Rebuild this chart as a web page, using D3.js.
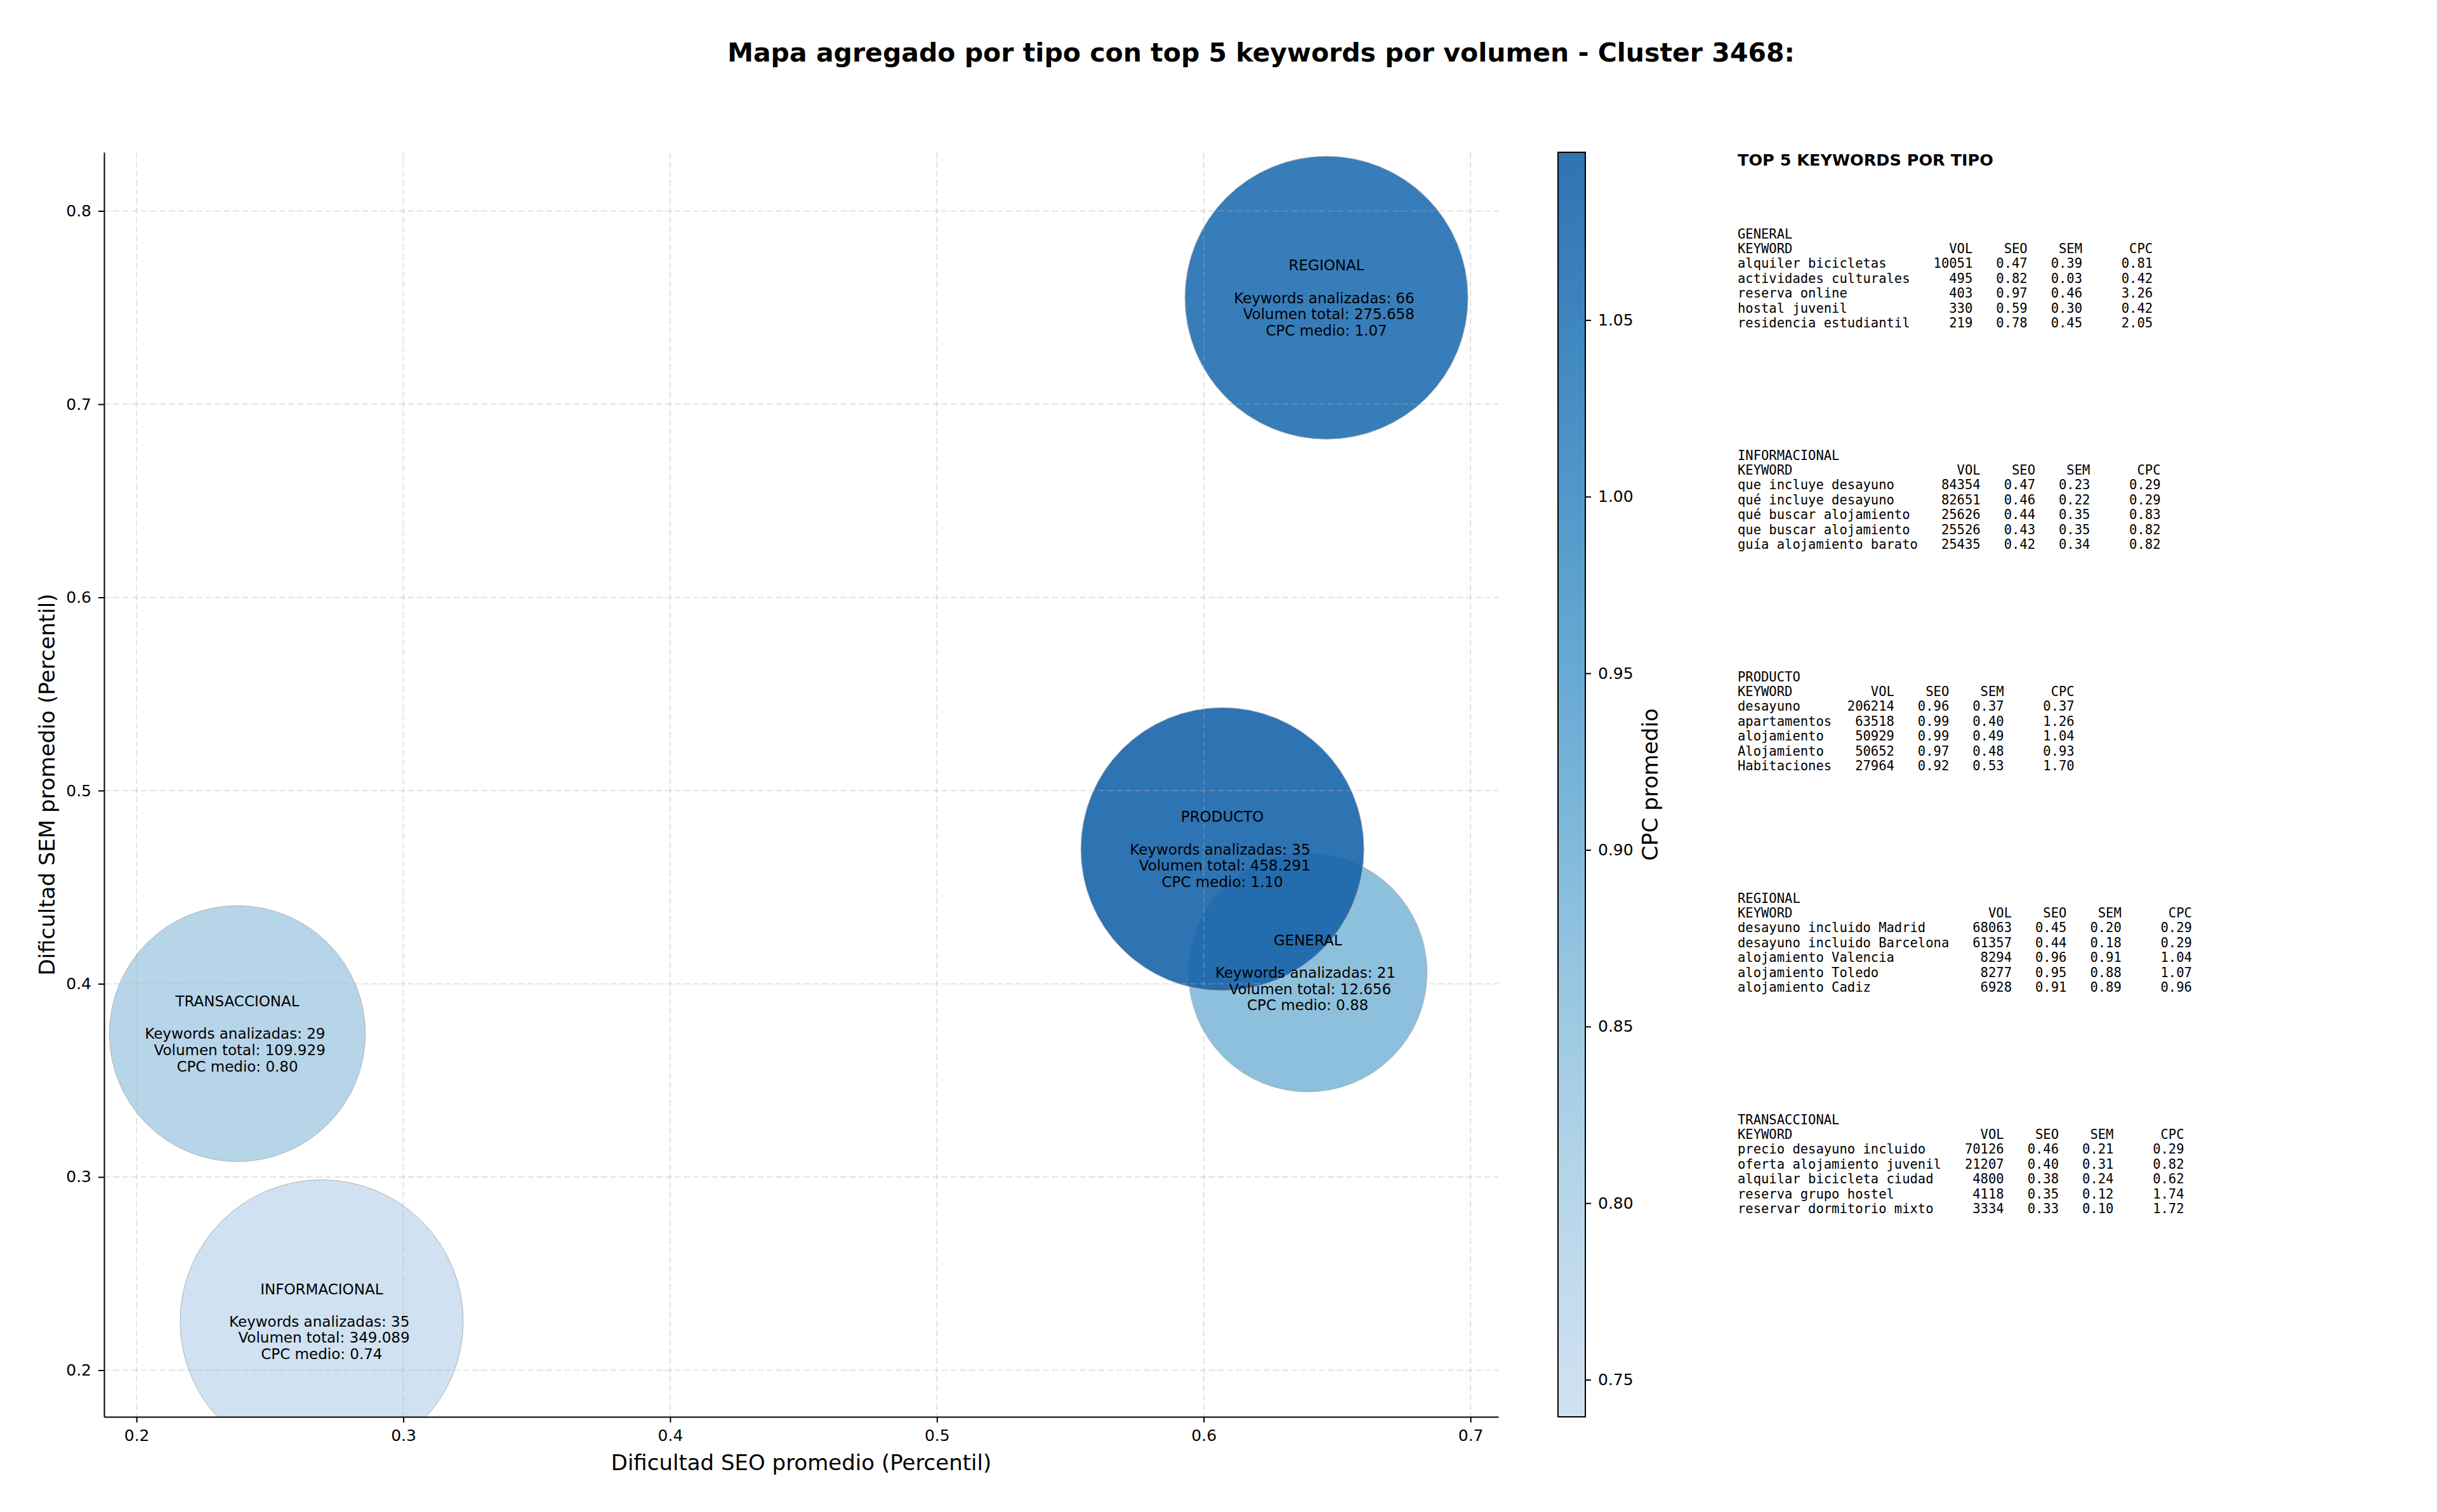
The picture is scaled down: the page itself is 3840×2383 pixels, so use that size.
<!DOCTYPE html>
<meta charset="utf-8">
<script src="https://d3js.org/d3.v7.min.js"></script>
<style>
  body { margin: 0; background: #fff; }
  text { font-family: "DejaVu Sans", sans-serif; fill: #000; }
  .mono { font-family: "DejaVu Sans Mono", monospace; white-space: pre; }
  .axis text { font-size: 25px; font-family: "DejaVu Sans", sans-serif; }
  .axis path, .axis line { stroke: #000; stroke-width: 2; }
</style>
<svg></svg>
<script>

// DATA

var tipos = ["GENERAL", "INFORMACIONAL", "PRODUCTO", "REGIONAL", "TRANSACCIONAL"];
var seoProm = [0.639, 0.2694, 0.607, 0.646, 0.2378];
var semProm = [0.4058, 0.2253, 0.4697, 0.7551, 0.3742];
var numKeywords = [21, 35, 35, 66, 29];
var volTotal = [12656, 349089, 458291, 275658, 109929];
var cpcMedio = [0.88, 0.7395, 1.0975, 1.07, 0.80];

var xTicks = [0.2, 0.3, 0.4, 0.5, 0.6, 0.7];
var yTicks = [0.2, 0.3, 0.4, 0.5, 0.6, 0.7, 0.8];
var cbTicks = [0.75, 0.80, 0.85, 0.90, 0.95, 1.00, 1.05];

// top 5 keywords: keyword, vol, seo, sem, cpc
var topGeneral = [
  ["alquiler bicicletas", 10051, 0.47, 0.39, 0.81],
  ["actividades culturales", 495, 0.82, 0.03, 0.42],
  ["reserva online", 403, 0.97, 0.46, 3.26],
  ["hostal juvenil", 330, 0.59, 0.30, 0.42],
  ["residencia estudiantil", 219, 0.78, 0.45, 2.05]
];
var topInformacional = [
  ["que incluye desayuno", 84354, 0.47, 0.23, 0.29],
  ["qué incluye desayuno", 82651, 0.46, 0.22, 0.29],
  ["qué buscar alojamiento", 25626, 0.44, 0.35, 0.83],
  ["que buscar alojamiento", 25526, 0.43, 0.35, 0.82],
  ["guía alojamiento barato", 25435, 0.42, 0.34, 0.82]
];
var topProducto = [
  ["desayuno", 206214, 0.96, 0.37, 0.37],
  ["apartamentos", 63518, 0.99, 0.40, 1.26],
  ["alojamiento", 50929, 0.99, 0.49, 1.04],
  ["Alojamiento", 50652, 0.97, 0.48, 0.93],
  ["Habitaciones", 27964, 0.92, 0.53, 1.70]
];
var topRegional = [
  ["desayuno incluido Madrid", 68063, 0.45, 0.20, 0.29],
  ["desayuno incluido Barcelona", 61357, 0.44, 0.18, 0.29],
  ["alojamiento Valencia", 8294, 0.96, 0.91, 1.04],
  ["alojamiento Toledo", 8277, 0.95, 0.88, 1.07],
  ["alojamiento Cadiz", 6928, 0.91, 0.89, 0.96]
];
var topTransaccional = [
  ["precio desayuno incluido", 70126, 0.46, 0.21, 0.29],
  ["oferta alojamiento juvenil", 21207, 0.40, 0.31, 0.82],
  ["alquilar bicicleta ciudad", 4800, 0.38, 0.24, 0.62],
  ["reserva grupo hostel", 4118, 0.35, 0.12, 1.74],
  ["reservar dormitorio mixto", 3334, 0.33, 0.10, 1.72]
];
var topPorTipo = [topGeneral, topInformacional, topProducto, topRegional, topTransaccional];

// GLOBALS

var width = 3840;
var height = 2383;
var plot = { left: 164, right: 2361, top: 240, bottom: 2233 };
var cbar = { left: 2455, right: 2498 };

var svg = d3.select("svg")
    .attr("width", width)
    .attr("height", height);

svg.append("rect").attr("width", width).attr("height", height).attr("fill", "#fff");

// SCALES

var xScale = d3.scaleLinear().domain([0.18784, 0.71044]).range([plot.left, plot.right]);
var yScale = d3.scaleLinear().domain([0.17586, 0.83038]).range([plot.bottom, plot.top]);
// bubble area grows with volume, capped at a maximum size
var areaScale = d3.scaleLinear().domain([0, 276000]).range([34650, 49730]).clamp(true);

var cpcExtent = d3.extent(cpcMedio);
var color = d3.scaleSequential(function(t) { return d3.interpolateBlues(0.22 + 0.58 * t); })
    .domain(cpcExtent);
var cbScale = d3.scaleLinear().domain(cpcExtent).range([plot.bottom, plot.top]);

var fmtVol = d3.formatLocale({ decimal: ",", thousands: ".", grouping: [3], currency: ["", ""] }).format(",d");

var data = tipos.map(function(t, i) {
  return { tipo: t, seo: seoProm[i], sem: semProm[i], n: numKeywords[i], vol: volTotal[i], cpc: cpcMedio[i] };
});

// BUBBLES

var defs = svg.append("defs");
defs.append("clipPath")
    .attr("id", "plotclip")
  .append("rect")
    .attr("x", plot.left)
    .attr("y", plot.top)
    .attr("width", plot.right - plot.left)
    .attr("height", plot.bottom - plot.top);

svg.append("g")
    .attr("clip-path", "url(#plotclip)")
  .selectAll("circle")
  .data(data)
  .enter()
  .append("circle")
    .attr("cx", function(d) { return xScale(d.seo); })
    .attr("cy", function(d) { return yScale(d.sem); })
    .attr("r", function(d) { return Math.sqrt(areaScale(d.vol)); })
    .attr("fill", function(d) { return color(d.cpc); })
    .attr("stroke", "#a8a8a8")
    .attr("stroke-width", 1)
    .attr("opacity", 0.9);

// GRID (over the bubbles, like matplotlib)

var grid = svg.append("g")
    .attr("stroke", "#b0b0b0")
    .attr("stroke-opacity", 0.35)
    .attr("stroke-width", 2)
    .attr("stroke-dasharray", "10,4.5");

grid.selectAll("line.gx")
  .data(xTicks)
  .enter().append("line")
    .attr("class", "gx")
    .attr("x1", function(d) { return xScale(d); })
    .attr("x2", function(d) { return xScale(d); })
    .attr("y1", plot.top)
    .attr("y2", plot.bottom);

grid.selectAll("line.gy")
  .data(yTicks)
  .enter().append("line")
    .attr("class", "gy")
    .attr("y1", function(d) { return yScale(d); })
    .attr("y2", function(d) { return yScale(d); })
    .attr("x1", plot.left)
    .attr("x2", plot.right);

// AXES

svg.append("g")
    .attr("class", "axis")
    .attr("transform", "translate(0," + plot.bottom + ")")
    .call(d3.axisBottom(xScale).tickValues(xTicks).tickFormat(d3.format(".1f"))
      .tickSize(9).tickSizeOuter(0).tickPadding(11));

svg.append("g")
    .attr("class", "axis")
    .attr("transform", "translate(" + plot.left + ",0)")
    .call(d3.axisLeft(yScale).tickValues(yTicks).tickFormat(d3.format(".1f"))
      .tickSize(9).tickSizeOuter(0).tickPadding(11));

svg.selectAll(".axis text").attr("fill", "#000");

svg.append("text")
    .attr("x", (plot.left + plot.right) / 2)
    .attr("y", 2317)
    .attr("text-anchor", "middle")
    .style("font-size", "34px")
    .text("Dificultad SEO promedio (Percentil)");

svg.append("text")
    .attr("transform", "translate(86," + ((plot.top + plot.bottom) / 2) + ") rotate(-90)")
    .attr("text-anchor", "middle")
    .style("font-size", "34px")
    .text("Dificultad SEM promedio (Percentil)");

// BUBBLE LABELS

var lineH = 25.6;
var labels = svg.append("g").style("font-size", "23px");

data.forEach(function(d) {
  var lines = [d.tipo, "", "Keywords analizadas: " + d.n + " ", " Volumen total: " + fmtVol(d.vol), "CPC medio: " + d.cpc.toFixed(2)];
  var cx = xScale(d.seo), cy = yScale(d.sem);
  lines.forEach(function(l, j) {
    labels.append("text")
      .attr("x", cx)
      .attr("y", cy + (j - 2) * lineH + 8.4)
      .attr("text-anchor", "middle")
      .style("white-space", "pre")
      .text(l);
  });
});

// COLORBAR

var grad = defs.append("linearGradient")
    .attr("id", "cbgrad")
    .attr("x1", 0).attr("y1", 1).attr("x2", 0).attr("y2", 0);
d3.range(0, 1.0001, 0.05).forEach(function(t) {
  var v = cpcExtent[0] + t * (cpcExtent[1] - cpcExtent[0]);
  grad.append("stop").attr("offset", t).attr("stop-color", color(v));
});

svg.append("rect")
    .attr("x", cbar.left)
    .attr("y", plot.top)
    .attr("width", cbar.right - cbar.left)
    .attr("height", plot.bottom - plot.top)
    .attr("fill", "url(#cbgrad)")
    .attr("fill-opacity", 0.9);

svg.append("rect")
    .attr("x", cbar.left)
    .attr("y", plot.top)
    .attr("width", cbar.right - cbar.left)
    .attr("height", plot.bottom - plot.top)
    .attr("fill", "none")
    .attr("stroke", "#000")
    .attr("stroke-width", 2);

var cbAxis = svg.append("g")
    .attr("class", "axis")
    .attr("transform", "translate(" + cbar.right + ",0)")
    .call(d3.axisRight(cbScale).tickValues(cbTicks).tickFormat(d3.format(".2f"))
      .tickSize(9).tickSizeOuter(0).tickPadding(11));
cbAxis.select(".domain").remove();
cbAxis.selectAll("text").attr("fill", "#000");

svg.append("text")
    .attr("transform", "translate(2612," + ((plot.top + plot.bottom) / 2) + ") rotate(-90)")
    .attr("text-anchor", "middle")
    .style("font-size", "34px")
    .text("CPC promedio");

// TITLE

svg.append("text")
    .attr("x", 1987)
    .attr("y", 97)
    .attr("text-anchor", "middle")
    .style("font-size", "41px")
    .style("font-weight", "bold")
    .text("Mapa agregado por tipo con top 5 keywords por volumen - Cluster 3468:");

// TOP 5 TABLE

var tx = 2738;
svg.append("text")
    .attr("x", tx)
    .attr("y", 261)
    .style("font-size", "25.5px")
    .style("font-weight", "bold")
    .text("TOP 5 KEYWORDS POR TIPO");

var monoSize = 20.5, monoH = 23.4, blockGap = 349;

topPorTipo.forEach(function(rows, i) {
  var w = d3.max(rows, function(r) { return r[0].length; }) + 2;
  var lines = [tipos[i],
    "KEYWORD".padEnd(w) + "VOL".padStart(6) + "SEO".padStart(7) + "SEM".padStart(7) + "CPC".padStart(9)];
  rows.forEach(function(r) {
    lines.push(r[0].padEnd(w) + String(r[1]).padStart(6) + r[2].toFixed(2).padStart(7) +
      r[3].toFixed(2).padStart(7) + r[4].toFixed(2).padStart(9));
  });
  var y0 = 368 + i * blockGap;
  lines.forEach(function(l, j) {
    svg.append("text")
      .attr("class", "mono")
      .attr("x", tx)
      .attr("y", y0 + j * monoH + 7.5)
      .style("font-size", monoSize + "px")
      .text(l);
  });
});

</script>
